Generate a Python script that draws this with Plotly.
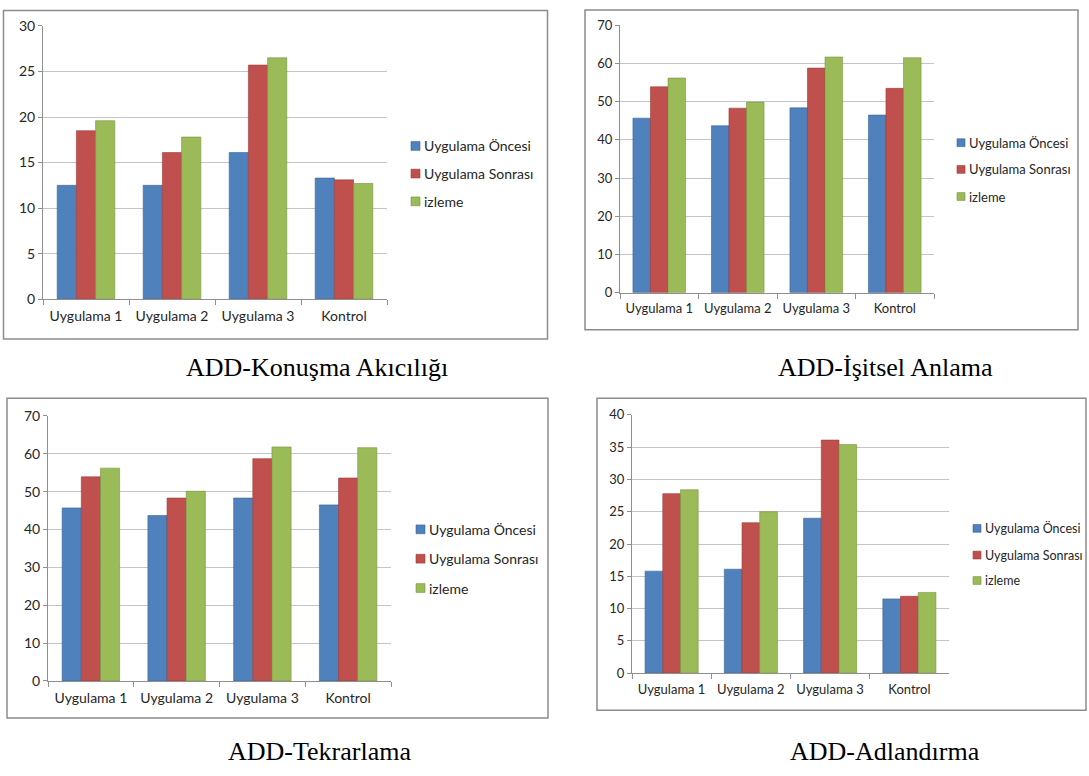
import plotly.graph_objects as go

W, H = 1089, 776

categories = ["Uygulama 1", "Uygulama 2", "Uygulama 3", "Kontrol"]
series_names = ["Uygulama Öncesi", "Uygulama Sonrası", "izleme"]
series_colors = ["#4F81BD", "#C0504D", "#9BBB59"]
edge_colors = ["#3A6396", "#9A3A38", "#76923C"]

# ADD-Konuşma Akıcılığı
konusma_once = [12.5, 12.5, 16.1, 13.3]
konusma_sonra = [18.5, 16.1, 25.7, 13.1]
konusma_izleme = [19.6, 17.8, 26.5, 12.7]

# ADD-İşitsel Anlama
isitsel_once = [45.7, 43.7, 48.4, 46.5]
isitsel_sonra = [53.9, 48.3, 58.8, 53.5]
isitsel_izleme = [56.2, 49.9, 61.7, 61.5]

# ADD-Tekrarlama
tekrar_once = [45.7, 43.7, 48.3, 46.5]
tekrar_sonra = [53.9, 48.3, 58.7, 53.6]
tekrar_izleme = [56.2, 50.1, 61.8, 61.6]

# ADD-Adlandırma
adlandirma_once = [15.8, 16.1, 24.0, 11.5]
adlandirma_sonra = [27.8, 23.3, 36.1, 11.9]
adlandirma_izleme = [28.4, 25.0, 35.4, 12.5]

titles = ["ADD-Konuşma Akıcılığı", "ADD-İşitsel Anlama", "ADD-Tekrarlama", "ADD-Adlandırma"]
y_max = [30, 70, 70, 40]
y_step = [5, 10, 10, 5]

panels = [
    dict(data=[konusma_once, konusma_sonra, konusma_izleme],
         plot=(43, 387, 296.7, 17.3), box=(3.5, 1.5, 547.5, 337.5),
         leg_x=411, leg_y=[140, 168.3, 196.7], leg_size=14, tick_size=14, sq=9,
         cap=(317, 367)),
    dict(data=[isitsel_once, isitsel_sonra, isitsel_izleme],
         plot=(620, 934, 290, 16.7), box=(585, 1, 1078, 328),
         leg_x=957, leg_y=[136.7, 164, 191.7], leg_size=13, tick_size=13, sq=8,
         cap=(885, 367)),
    dict(data=[tekrar_once, tekrar_sonra, tekrar_izleme],
         plot=(48, 391, 687, 416), box=(7, 398, 548, 725),
         leg_x=416, leg_y=[532, 562, 592], leg_size=14, tick_size=14, sq=9,
         cap=(319, 759)),
    dict(data=[adlandirma_once, adlandirma_sonra, adlandirma_izleme],
         plot=(632, 949, 679, 415), box=(597, 398, 1086, 717),
         leg_x=973, leg_y=[531, 558.3, 584.3], leg_size=12.5, tick_size=13, sq=8,
         cap=(885, 759)),
]

TEXT = "#262626"
AXIS = "#8f8f8f"


def px(x):
    return x / W


def py(y):
    return 1 - y / H


fig = go.Figure()
shapes = []
annotations = []
layout_axes = {}

for i, p in enumerate(panels):
    n = "" if i == 0 else str(i + 1)
    xref, yref = "x" + n, "y" + n
    for s in range(3):
        fig.add_trace(go.Bar(
            x=categories, y=p["data"][s], name=series_names[s],
            xaxis=xref, yaxis=yref, showlegend=False,
            marker=dict(color=series_colors[s],
                        line=dict(color=edge_colors[s], width=0.6)),
        ))
    x0, x1, yb, yt = p["plot"]
    tick_font = dict(family="Lato", size=p["tick_size"], color=TEXT)
    layout_axes["xaxis" + n] = dict(
        domain=[px(x0), px(x1)], anchor=yref, type="category",
        showgrid=False, showline=True, linecolor=AXIS, linewidth=1,
        ticks="outside", tickson="boundaries", ticklen=5, tickcolor=AXIS,
        tickfont=tick_font, ticklabelstandoff=4, fixedrange=True,
    )
    layout_axes["yaxis" + n] = dict(
        domain=[py(yb), py(yt)], anchor=xref,
        range=[0, y_max[i]], dtick=y_step[i], tick0=0,
        showgrid=True, gridcolor="#c4c4c4", gridwidth=1,
        showline=True, linecolor=AXIS, linewidth=1,
        ticks="outside", ticklen=4, tickcolor=AXIS,
        zeroline=False, tickfont=tick_font, fixedrange=True,
    )
    bx0, by0, bx1, by1 = p["box"]
    shapes.append(dict(type="rect", xref="paper", yref="paper",
                       x0=px(bx0), x1=px(bx1), y0=py(by1), y1=py(by0),
                       line=dict(color="#8c8c8c", width=1.5), layer="below"))
    # legend entries: small colour square followed by the series name
    sq = p["sq"]
    for s in range(3):
        cy = p["leg_y"][s]
        lx = p["leg_x"]
        shapes.append(dict(type="rect", xref="paper", yref="paper",
                           x0=px(lx), x1=px(lx + sq),
                           y0=py(cy + sq / 2), y1=py(cy - sq / 2),
                           fillcolor=series_colors[s],
                           line=dict(color=edge_colors[s], width=0.6)))
        annotations.append(dict(text=series_names[s], xref="paper", yref="paper",
                                x=px(lx + sq + 2), y=py(cy), xanchor="left",
                                yanchor="middle", showarrow=False,
                                font=dict(family="Lato", size=p["leg_size"],
                                          color=TEXT)))
    cx, cy = p["cap"]
    annotations.append(dict(text=titles[i], xref="paper", yref="paper",
                            x=px(cx), y=py(cy), xanchor="center", yanchor="middle",
                            showarrow=False,
                            font=dict(family="Liberation Serif", size=26,
                                      color="#000000")))

fig.update_layout(
    width=W, height=H,
    margin=dict(l=0, r=0, t=0, b=0),
    paper_bgcolor="white", plot_bgcolor="white",
    barmode="group", bargap=0.33, bargroupgap=0,
    showlegend=False,
    shapes=shapes, annotations=annotations,
    **layout_axes,
)

fig.write_html("out.html")
